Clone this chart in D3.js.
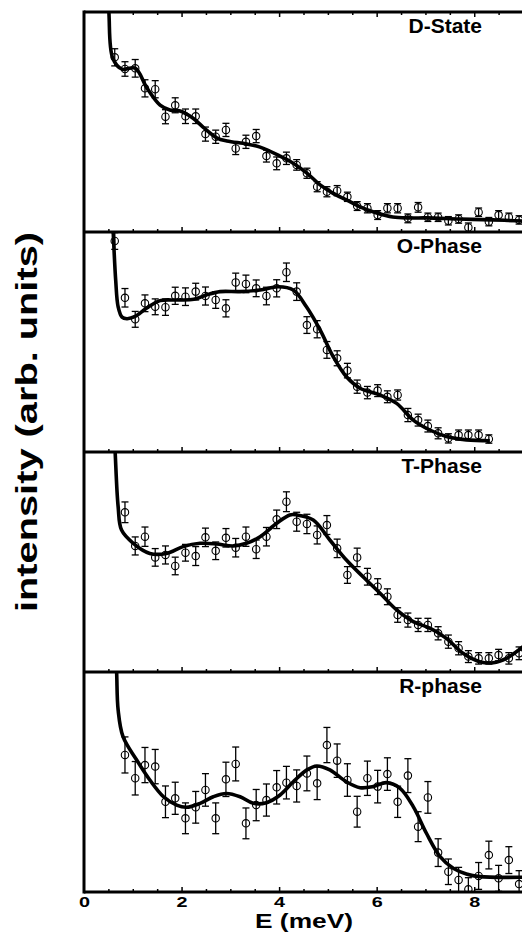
<!DOCTYPE html>
<html>
<head>
<meta charset="utf-8">
<script src="https://cdn.jsdelivr.net/npm/d3@7/dist/d3.min.js"></script>
<style>
  body { margin: 0; background: #fff; }
  text { font-family: "Liberation Sans", Arial, sans-serif; font-weight: bold; fill: #000; }
</style>
</head>
<body>
<div id="chart"></div>
<script>
/* global d3 */

// Data (intensity in arb. units, 0-100 per panel)
const panelNames = ['D-State', 'O-Phase', 'T-Phase', 'R-phase']

const energy = [0.63, 0.84, 1.05, 1.25, 1.46, 1.67, 1.87, 2.08, 2.29, 2.49, 2.70, 2.91, 3.11, 3.32, 3.53,
  3.74, 3.95, 4.15, 4.36, 4.57, 4.78, 4.98, 5.19, 5.40, 5.60, 5.81, 6.02, 6.22, 6.43, 6.64, 6.85,
  7.05, 7.26, 7.47, 7.68, 7.88, 8.09, 8.30, 8.50, 8.71, 8.92]

const dState = [79.4, 74.1, 74.4, 65.3, 64.9, 52.4, 57.6, 52.6, 52.6, 44.5, 43.3, 46.4, 38.0, 41.0, 43.6,
  34.5, 31.2, 33.5, 30.5, 26.7, 20.6, 18.3, 18.8, 16.0, 11.8, 10.8, 7.7, 10.8, 10.8, 6.2, 11.2,
  6.7, 6.7, 5.1, 5.9, 2.1, 9.0, 4.7, 7.7, 6.7, 5.5]
const dStateErr = [3.9, 3.3, 4.0, 3.9, 3.9, 3.2, 3.4, 3.3, 3.3, 3.2, 3.0, 3.0, 2.8, 3.0, 3.0,
  2.7, 2.9, 2.8, 2.4, 2.3, 2.3, 2.3, 2.3, 2.1, 2.0, 2.1, 2.0, 2.1, 2.1, 2.0, 2.2,
  1.9, 1.9, 1.9, 1.9, 2.0, 1.9, 1.9, 2.0, 1.9, 1.9]

const oPhase = [95.9, 70.1, 60.3, 67.6, 66.0, 65.8, 71.0, 70.6, 72.9, 70.9, 69.1, 65.3, 77.1, 76.4, 74.4,
  70.9, 74.4, 81.7, 72.9, 57.7, 55.8, 46.4, 42.6, 37.0, 29.7, 27.0, 27.9, 25.1, 25.9, 16.8, 14.5,
  11.8, 8.5, 6.2, 7.7, 7.7, 7.7, 5.9, null, null, null]
const oPhaseErr = [3.8, 4.2, 3.6, 3.8, 3.6, 3.7, 3.9, 4.0, 3.8, 4.1, 3.8, 3.9, 4.2, 4.0, 3.8,
  4.0, 3.9, 4.2, 4.0, 3.8, 3.9, 3.8, 3.4, 3.3, 3.0, 2.8, 2.7, 2.7, 2.3, 3.0, 2.7,
  2.7, 2.5, 2.1, 2.3, 2.3, 2.3, 1.9, null, null, null]

const tPhase = [null, 72.6, 57.3, 61.5, 52.1, 53.2, 48.2, 54.2, 52.7, 61.2, 55.1, 61.0, 56.5, 61.5, 55.8,
  61.5, 69.4, 77.4, 68.3, 67.3, 62.3, 66.8, 56.2, 44.1, 52.1, 43.3, 38.8, 34.2, 25.9, 23.6, 21.4,
  21.4, 17.6, 13.8, 10.8, 7.0, 6.2, 6.2, 7.7, 6.2, 8.5]
const tPhaseErr = [null, 4.7, 4.1, 4.4, 4.0, 4.1, 4.0, 3.8, 4.3, 4.2, 4.0, 4.2, 4.2, 4.4, 4.2,
  4.2, 4.2, 4.5, 4.3, 4.4, 4.1, 4.3, 4.2, 3.8, 4.2, 3.8, 3.6, 3.6, 3.3, 3.2, 3.0,
  3.0, 3.0, 3.0, 3.0, 2.7, 2.6, 2.6, 2.6, 2.6, 2.9]

const rPhase = [null, 62.3, 51.7, 57.7, 57.0, 41.0, 42.6, 33.5, 38.5, 46.4, 33.5, 51.2, 58.2, 31.2, 39.5,
  41.8, 47.6, 49.7, 48.2, 53.9, 49.4, 66.8, 59.7, 50.9, 36.5, 51.7, 47.9, 53.6, 41.0, 52.9, 29.7,
  43.0, 17.9, 9.2, 5.5, 1.2, 7.3, 16.8, 6.2, 14.5, 3.6]
const rPhaseErr = [null, 8.2, 7.6, 8.0, 7.8, 7.2, 7.3, 7.0, 7.2, 7.4, 7.0, 7.8, 7.7, 7.0, 7.1,
  7.3, 7.6, 7.4, 7.3, 7.9, 7.4, 8.0, 7.6, 7.4, 7.0, 7.8, 7.4, 7.4, 7.1, 7.7, 6.8,
  7.2, 6.3, 5.8, 5.7, 5.3, 6.1, 6.3, 5.9, 6.1, 6.1]

// fitted curves
const dStateFitE = [0.47, 0.51, 0.59, 0.78, 1.05, 1.29, 1.56, 1.76, 1.97, 2.23, 2.44, 2.73, 2.93, 3.34, 3.61,
  4.02, 4.28, 4.57, 4.84, 5.10, 5.39, 5.66, 6.00, 6.33, 6.68, 7.03, 7.70, 8.38, 9.00]
const dStateFitI = [120, 100, 79, 74, 74.5, 65.5, 57.7, 55.5, 55, 51.8, 47.7, 42.7, 41.4, 40, 38.6,
  34.5, 31.4, 26.8, 21.4, 17.7, 14.5, 11.4, 8.6, 6.8, 6.4, 6.4, 5.9, 5.5, 5.0]

const oPhaseFitE = [0.56, 0.60, 0.65, 0.70, 0.78, 0.88, 1.04, 1.28, 1.56, 1.90, 2.25, 2.51, 2.79, 3.20, 3.61,
  3.98, 4.29, 4.56, 4.84, 5.11, 5.38, 5.66, 6.07, 6.41, 6.75, 7.09, 7.43, 7.84, 8.32]
const oPhaseFitI = [120, 99.4, 78, 66, 61.3, 60.6, 61.5, 65.3, 68.8, 69.1, 69.4, 71.4, 72.9, 72.9, 73.6,
  75.1, 73.6, 66.0, 55.5, 43.3, 34.2, 29.0, 25.9, 22.1, 14.5, 10.0, 7.0, 5.5, 5.1]

const tPhaseFitE = [0.60, 0.64, 0.70, 0.77, 1.01, 1.35, 1.69, 2.03, 2.38, 2.72, 3.06, 3.33, 3.61, 3.95, 4.22,
  4.36, 4.70, 5.04, 5.38, 5.72, 6.07, 6.41, 6.75, 7.09, 7.43, 7.77, 8.11, 8.39, 8.66, 9.00]
const tPhaseFitI = [120, 99.4, 75.1, 64.5, 58.5, 53.9, 53.9, 57.0, 58.5, 58.2, 57.3, 58.5, 61.5, 67.6, 71.4,
  71.4, 69.1, 60.0, 50.9, 43.3, 35.8, 28.2, 22.9, 19.9, 15.3, 8.5, 4.7, 4.2, 6.2, 11.5]

const rPhaseFitE = [0.64, 0.67, 0.70, 0.80, 1.08, 1.35, 1.63, 1.90, 2.10, 2.38, 2.65, 2.92, 3.20, 3.47, 3.74,
  4.02, 4.29, 4.57, 4.77, 5.04, 5.38, 5.66, 5.93, 6.20, 6.48, 6.75, 7.02, 7.30, 7.57, 7.84, 8.11, 9.00]
const rPhaseFitI = [120, 99.4, 82.7, 70.6, 60.0, 50.9, 43.3, 39.5, 38.5, 40.3, 43.3, 44.8, 43.3, 40.3, 40.6,
  44.1, 50.1, 55.5, 57.3, 55.5, 50.1, 47.4, 47.9, 49.7, 47.1, 38.8, 26.7, 16.1, 10.8, 8.2, 7.0, 6.7]

// axis ticks
const majorTicks = [2, 4, 6, 8]
const minorTicks = [0.5, 1, 1.5, 2.5, 3, 3.5, 4.5, 5, 5.5, 6.5, 7, 7.5, 8.5]
const tickLabels = [0, 2, 4, 6, 8]

const panels = [
  { name: panelNames[0], values: dState, errors: dStateErr, fitE: dStateFitE, fitI: dStateFitI },
  { name: panelNames[1], values: oPhase, errors: oPhaseErr, fitE: oPhaseFitE, fitI: oPhaseFitI },
  { name: panelNames[2], values: tPhase, errors: tPhaseErr, fitE: tPhaseFitE, fitI: tPhaseFitI },
  { name: panelNames[3], values: rPhase, errors: rPhaseErr, fitE: rPhaseFitE, fitI: rPhaseFitI }
]

// canvas
const width = 522,
  height = 933,
  marginLeft = 84,
  marginTop = 12,
  panelHeight = 220

let svg = d3.select('#chart')
  .append('svg')
  .attr('width', width)
  .attr('height', height)

let x = d3.scaleLinear()
  .domain([0, 9])
  .range([marginLeft, 523])

panels.forEach((p, i) => {
  let top = marginTop + i * panelHeight
  let bottom = top + panelHeight
  let y = d3.scaleLinear()
    .domain([0, 100])
    .range([bottom, top])

  svg.append('clipPath')
    .attr('id', 'clip' + i)
    .append('rect')
    .attr('x', marginLeft)
    .attr('y', top)
    .attr('width', width - marginLeft)
    .attr('height', panelHeight)

  let g = svg.append('g')
    .attr('clip-path', 'url(#clip' + i + ')')

  let pts = energy.map((e, k) => ({ e: e, v: p.values[k], err: p.errors[k] }))
    .filter(d => d.v != null)

  // error bars
  let eb = g.selectAll('.eb')
    .data(pts)
    .enter()
    .append('g')
    .attr('stroke', '#000')
    .attr('stroke-width', 1.3)
    .attr('fill', 'none')
  eb.append('line')
    .attr('x1', d => x(d.e)).attr('x2', d => x(d.e))
    .attr('y1', d => y(d.v - d.err)).attr('y2', d => y(d.v + d.err))
  eb.append('line')
    .attr('x1', d => x(d.e) - 3.5).attr('x2', d => x(d.e) + 3.5)
    .attr('y1', d => y(d.v + d.err)).attr('y2', d => y(d.v + d.err))
  eb.append('line')
    .attr('x1', d => x(d.e) - 3.5).attr('x2', d => x(d.e) + 3.5)
    .attr('y1', d => y(d.v - d.err)).attr('y2', d => y(d.v - d.err))
  eb.append('circle')
    .attr('cx', d => x(d.e))
    .attr('cy', d => y(d.v))
    .attr('r', 3.7)
    .attr('stroke-width', 1.1)

  // fitted line
  let fit = p.fitE.map((e, k) => [e, p.fitI[k]])
  let line = d3.line()
    .x(d => x(d[0]))
    .y(d => y(d[1]))
    .curve(d3.curveCatmullRom.alpha(0.5))
  g.append('path')
    .datum(fit)
    .attr('d', line)
    .attr('fill', 'none')
    .attr('stroke', '#000')
    .attr('stroke-width', 3.6)
    .attr('stroke-linejoin', 'round')

  // inward ticks at the bottom of each panel
  let minorAxis = d3.axisTop(x).tickValues(minorTicks).tickSize(3).tickFormat('')
  let majorAxis = d3.axisTop(x).tickValues(majorTicks).tickSize(5).tickFormat('')
  ;[minorAxis, majorAxis].forEach(ax => {
    let a = svg.append('g').attr('transform', 'translate(0,' + bottom + ')').call(ax)
    a.select('.domain').remove()
    a.selectAll('line').attr('stroke-width', 1.5)
  })
  if (i === 0) {
    ;[d3.axisBottom(x).tickValues(minorTicks).tickSize(3).tickFormat(''),
      d3.axisBottom(x).tickValues(majorTicks).tickSize(5).tickFormat('')].forEach(ax => {
      let a = svg.append('g').attr('transform', 'translate(0,' + top + ')').call(ax)
      a.select('.domain').remove()
      a.selectAll('line').attr('stroke-width', 1.5)
    })
    svg.append('line')
      .attr('x1', marginLeft).attr('x2', width)
      .attr('y1', top).attr('y2', top)
      .attr('stroke', '#000').attr('stroke-width', 3)
  }

  // panel frame bottom line
  svg.append('line')
    .attr('x1', marginLeft).attr('x2', width)
    .attr('y1', bottom).attr('y2', bottom)
    .attr('stroke', '#000').attr('stroke-width', 3)

  // panel label
  svg.append('text')
    .attr('x', 482)
    .attr('y', top + 21)
    .attr('text-anchor', 'end')
    .style('font-size', '21px')
    .text(p.name)
})

// left frame line
svg.append('line')
  .attr('x1', marginLeft).attr('x2', marginLeft)
  .attr('y1', marginTop - 1.5).attr('y2', marginTop + 4 * panelHeight + 1.5)
  .attr('stroke', '#000').attr('stroke-width', 3)

// x tick labels
let xAxis = d3.axisBottom(x).tickValues(tickLabels).tickSize(0).tickFormat(d3.format('d'))
let xa = svg.append('g')
  .attr('transform', 'translate(0,' + (marginTop + 4 * panelHeight) + ')')
  .call(xAxis)
xa.select('.domain').remove()
xa.selectAll('text')
  .attr('y', 15)
  .attr('dy', 0)
  .attr('fill', '#000')
  .attr('textLength', 11)
  .attr('lengthAdjust', 'spacingAndGlyphs')
  .style('font-size', '15px')
  .style('font-family', '"Liberation Sans", Arial, sans-serif')
  .style('font-weight', 'bold')

// axis titles
svg.append('text')
  .attr('x', 304)
  .attr('y', 928)
  .attr('text-anchor', 'middle')
  .attr('textLength', 98)
  .attr('lengthAdjust', 'spacingAndGlyphs')
  .style('font-size', '21px')
  .text('E (meV)')

svg.append('text')
  .attr('transform', 'translate(37,422) rotate(-90)')
  .attr('text-anchor', 'middle')
  .attr('textLength', 380)
  .attr('lengthAdjust', 'spacingAndGlyphs')
  .style('font-size', '30px')
  .text('intensity (arb. units)')
</script>
</body>
</html>
